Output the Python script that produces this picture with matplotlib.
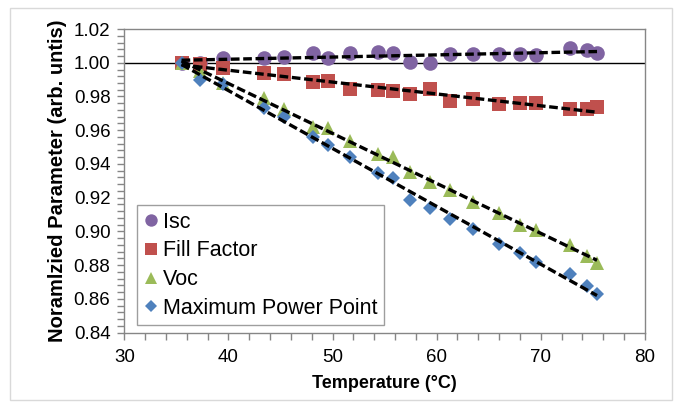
import matplotlib
matplotlib.use("Agg")
import matplotlib.pyplot as plt
from matplotlib.patches import Rectangle
from matplotlib.ticker import MultipleLocator, FormatStrFormatter
import numpy as np

plt.rcParams['font.family'] = ['Liberation Sans', 'DejaVu Sans']

temperature = [35.5, 37.3, 39.5, 43.4, 45.3, 48.1, 49.6, 51.7, 54.4, 55.8,
               57.4, 59.4, 61.3, 63.5, 66.0, 68.0, 69.5, 72.8, 74.4, 75.4]
isc = [1.000, 1.000, 1.003, 1.003, 1.0036, 1.0056, 1.003, 1.006, 1.0065, 1.006,
       1.0003, 0.9997, 1.0052, 1.005, 1.005, 1.005, 1.0046, 1.009, 1.0076, 1.006]
fill_factor = [1.000, 0.999, 0.9967, 0.9937, 0.9933, 0.9888, 0.9894, 0.9843, 0.9838, 0.9832,
               0.9817, 0.9843, 0.9775, 0.9783, 0.9756, 0.976, 0.9763, 0.9724, 0.9724, 0.974]
voc = [1.000, 0.995, 0.9882, 0.9789, 0.9724, 0.9617, 0.9611, 0.9538, 0.9459, 0.944,
       0.9354, 0.9295, 0.9246, 0.9176, 0.9111, 0.9038, 0.9009, 0.892, 0.8854, 0.8811]
mpp = [1.000, 0.990, 0.9874, 0.973, 0.9677, 0.9558, 0.9512, 0.9443, 0.9348, 0.9315,
       0.9186, 0.9137, 0.9072, 0.9013, 0.8926, 0.887, 0.8821, 0.8748, 0.8677, 0.863]

series = [
    ("Isc", isc, "o", "#8064A2", 10.5),
    ("Fill Factor", fill_factor, "s", "#C0504D", 9.5),
    ("Voc", voc, "^", "#9BBB59", 10),
    ("Maximum Power Point", mpp, "D", "#4F81BD", 7.5),
]

fig = plt.figure(figsize=(6.81, 4.07), dpi=100)
ax = fig.add_axes([0.1825, 0.1826, 0.947 - 0.1825, 0.9287 - 0.1826])

fig.patches.append(Rectangle((10 / 681, 1 - 400 / 407), (672 - 10) / 681, (400 - 8) / 407,
                             transform=fig.transFigure, fill=False,
                             edgecolor="#d9d9d9", linewidth=1.0))

ax.axhline(1.0, color="black", linewidth=1.0, zorder=1)

t = np.array(temperature)
for name, vals, m, c, ms in series:
    ax.plot(temperature, vals, linestyle="none", marker=m, color=c,
            markersize=ms, markeredgewidth=0, label=name, zorder=2)

for name, vals, m, c, ms in series:
    p = np.polyfit(t, np.array(vals), 1)
    xs = np.array([t.min(), t.max()])
    ln, = ax.plot(xs, np.polyval(p, xs), color="black", linewidth=2.4, zorder=3)
    ln.set_dashes((2.6, 1.1))

ax.set_xlim(30, 80)
ax.set_ylim(0.84, 1.02)
ax.xaxis.set_major_locator(MultipleLocator(10))
ax.xaxis.set_minor_locator(MultipleLocator(2))
ax.yaxis.set_major_locator(MultipleLocator(0.02))
ax.yaxis.set_minor_locator(MultipleLocator(0.004))
ax.yaxis.set_major_formatter(FormatStrFormatter("%.2f"))

for s in ax.spines.values():
    s.set_color("#868686")
    s.set_linewidth(1.0)
ax.tick_params(which="both", direction="out", color="#868686", width=1.0)
ax.tick_params(which="major", length=5, labelsize=13.5)
ax.tick_params(axis="x", which="major", pad=7)
ax.tick_params(axis="y", which="major", pad=5)
ax.tick_params(which="minor", length=5)

ax.set_xlabel("Temperature (°C)", fontsize=13, fontweight="bold", labelpad=6)
ax.set_ylabel("Noramlzied Parameter (arb. untis)", fontsize=14.5, fontweight="bold", labelpad=5)

leg = ax.legend(loc="lower left", bbox_to_anchor=(0.0165, 0.01), fontsize=15.5,
                frameon=True, fancybox=False, edgecolor="#868686",
                handlelength=0.65, handletextpad=0.25, borderpad=0.3,
                labelspacing=0.36, markerscale=0.85, borderaxespad=0.2)
leg.get_frame().set_linewidth(1.0)

fig.savefig("out.png", dpi=100)
